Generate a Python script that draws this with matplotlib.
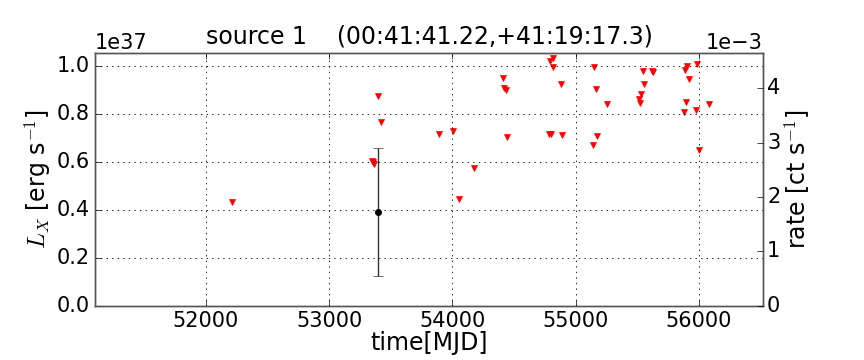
import matplotlib
matplotlib.use("Agg")
import matplotlib.pyplot as plt
from matplotlib.ticker import ScalarFormatter
import numpy as np

plt.style.use('classic')

# upper limits (MJD, L_X in 1e37 erg/s)
ul_mjd = [52211, 53350, 53358, 53365, 53397, 53422, 53890, 54009, 54053, 54172,
          54413, 54422, 54432, 54443, 54781, 54803, 54794, 54816, 54816, 54878,
          54889, 55141, 55152, 55166, 55176, 55255, 55512, 55523, 55534, 55556,
          55544, 55621, 55631, 55878, 55886, 55897, 55907, 55918, 55975, 55986,
          55999, 56084]
ul_lum = [0.434, 0.605, 0.600, 0.590, 0.876, 0.766, 0.716, 0.731, 0.444, 0.574,
          0.949, 0.909, 0.901, 0.704, 0.716, 0.716, 1.020, 1.033, 0.995, 0.926,
          0.713, 0.671, 0.998, 0.906, 0.707, 0.841, 0.863, 0.848, 0.884, 0.924,
          0.979, 0.980, 0.975, 0.810, 0.984, 0.851, 1.002, 0.947, 0.817, 1.009,
          0.650, 0.843]

# detection
det_mjd = [53397]
det_lum = [0.391]
det_err = [0.266]

scale = 1e37
lum_top = 1.054
rate_top = 4.648e-3

TICK = 15
LAB = 17

fig = plt.figure(figsize=(8.64, 3.6), dpi=100)
fig.patch.set_facecolor('white')
ax = fig.add_axes([0.110, 0.151, 0.773, 0.701])

ax.plot(np.array(ul_mjd), np.array(ul_lum) * scale, 'v', color='red',
        mec='red', ms=5, ls='none')
ax.errorbar(np.array(det_mjd), np.array(det_lum) * scale,
            yerr=np.array(det_err) * scale, fmt='o', color='black', ms=4.5,
            ecolor='#333333', elinewidth=1.0, capsize=3.5, mec='black')

ax.set_xlim(51100, 56520)
ax.set_ylim(0, lum_top * scale)
ax.set_xticks([52000, 53000, 54000, 55000, 56000])
ax.set_yticks(np.array([0.0, 0.2, 0.4, 0.6, 0.8, 1.0]) * scale)
ax.grid(True, color='black', linestyle=':', linewidth=0.6)
ax.set_xlabel('time[MJD]', fontsize=LAB, labelpad=0)
ax.set_ylabel(r'$L_X$ [erg s$^{-1}$]', fontsize=LAB, labelpad=2)
ax.set_title('source 1    (00:41:41.22,+41:19:17.3)', fontsize=LAB, y=1.01)
ax.tick_params(labelsize=TICK)
ax.yaxis.get_offset_text().set_fontsize(TICK)

ax2 = ax.twinx()
ax2.set_ylim(0, rate_top)
ax2.set_yticks(np.array([0, 1, 2, 3, 4]) * 1e-3)
fmt = ScalarFormatter(useMathText=False)
fmt.set_powerlimits((-2, 3))
ax2.yaxis.set_major_formatter(fmt)
ax2.set_ylabel(r'rate [ct s$^{-1}$]', fontsize=LAB, labelpad=1)
ax2.tick_params(labelsize=TICK, pad=3)
ax2.yaxis.get_offset_text().set_fontsize(TICK)

for a in (ax, ax2):
    for s in a.spines.values():
        s.set_color('#555555')

fig.savefig('out.png', dpi=100, facecolor='white')
